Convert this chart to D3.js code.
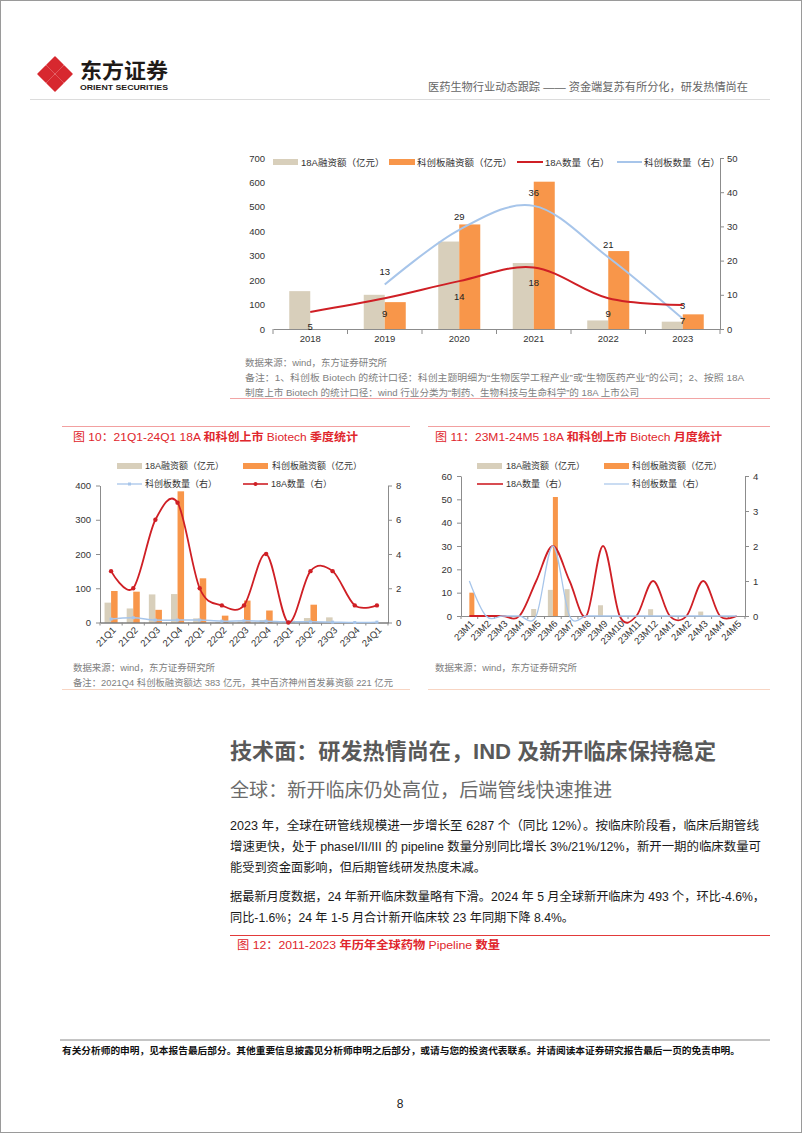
<!DOCTYPE html>
<html><head><meta charset="utf-8">
<script src="https://cdn.jsdelivr.net/npm/d3@7"></script>
<style>
body{margin:0;background:#fff}
svg{display:block;font-family:"Liberation Sans","Noto Sans CJK SC",sans-serif}
</style></head><body>
<svg id="page" width="802" height="1133"></svg>
<script>
// ---------- data ----------
const years = ["2018","2019","2020","2021","2022","2023"];
const yearA18Fund = [155,140,358,270,35,30];
const yearKcFund  = [0,110,428,603,319,60];
const yearA18Cnt  = [5,9,14,18,9,7];
const yearKcCnt   = [null,13,29,36,21,3];
const ticks1L = [0,100,200,300,400,500,600,700];
const ticks1R = [0,10,20,30,40,50];

const quarters = ["21Q1","21Q2","21Q3","21Q4","22Q1","22Q2","22Q3","22Q4","23Q1","23Q2","23Q3","23Q4","24Q1"];
const qA18Fund = [58,41,82,83,12,2,3,7,2,13,15,0,0];
const qKcFund  = [92,90,37,383,129,20,64,35,5,52,0,0,0];
const qA18Cnt  = [3,2,6,7,2,1,1,4,0,3,3,1,1];
const qKcCnt   = [10,14,7,7,7,4,5,4,2,2,1,0,1];
const ticks2L = [0,100,200,300,400];
const ticks2R = [0,2,4,6,8];

const months = ["23M1","23M2","23M3","23M4","23M5","23M6","23M7","23M8","23M9","23M10","23M11","23M12","24M1","24M2","24M3","24M4","24M5"];
const mA18Fund = [0,0,0.3,0,3,11.2,11.5,0,4.6,0,0,2.9,0,0,1.9,0,0];
const mKcFund  = [10,0,0,0,0,51,0,0,0,0,0,0,0,0,0,0,0];
const mA18Cnt  = [0,0,0,0,1,2,1,0,2,0,0,1,0,0,1,0,0];
const mKcCnt   = [1,0,0,0,0,2,0,0,0,0,0,0,0,0,0,0,0];
const ticks3L = [0,10,20,30,40,50,60];
const ticks3R = [0,1,2,3,4];

const legendNames = ["18A融资额（亿元）","科创板融资额（亿元）","18A数量（右）","科创板数量（右）"];

// ---------- helpers ----------
const C = {beige:"#d8cfbb", orange:"#f8964a", red:"#cf1f25", blue:"#a7c5ea", axis:"#8c8c8c", note:"#808080", title:"#e0262c"};
const svg = d3.select("#page");
const fmt = d3.format("d");
function T(x,y,s,o={}){
  const t = svg.append("text").attr("x",x).attr("y",y).attr("dominant-baseline","central")
    .attr("font-size",o.size||9.5).attr("fill",o.fill||"#333").text(s);
  if(o.anchor) t.attr("text-anchor",o.anchor);
  if(o.weight) t.attr("font-weight",o.weight);
  if(o.len) t.attr("textLength",o.len).attr("lengthAdjust","spacingAndGlyphs");
  return t;
}
function L(x1,y1,x2,y2,c,w){ svg.append("line").attr("x1",x1).attr("y1",y1).attr("x2",x2).attr("y2",y2).attr("stroke",c).attr("stroke-width",w||1); }
function titled(x,y,parts,len){
  const t = svg.append("text").attr("x",x).attr("y",y).attr("dominant-baseline","central")
    .attr("font-size",11.5).attr("fill",C.title);
  parts.forEach(p=>t.append("tspan").attr("font-weight",p[1]?"bold":"normal").text(p[0]));
  if(len) t.attr("textLength",len).attr("lengthAdjust","spacingAndGlyphs");
}
function styleAxis(g,size){
  g.selectAll("text").attr("font-size",size||9.5).attr("fill","#333").attr("font-family",null);
  g.selectAll("path,line").attr("stroke",C.axis);
}
const smooth = d3.curveCardinal.tension(0);

// page border
svg.append("rect").attr("x",0.5).attr("y",0.5).attr("width",801).attr("height",1132).attr("fill","none").attr("stroke","#9a9a9a");

// ---------- header ----------
const logo = svg.append("g").attr("fill","#d7282f");
[[55,65],[46,74],[64,74],[55,83]].forEach(([cx,cy])=>{
  logo.append("path").attr("d",`M${cx},${cy-8}L${cx+8},${cy}L${cx},${cy+8}L${cx-8},${cy}Z`).attr("stroke","#d7282f").attr("stroke-width",1.5).attr("stroke-linejoin","round");
});
T(80,70,"东方证券",{size:21,weight:"bold",fill:"#1f1a17",len:88});
T(80,87,"ORIENT SECURITIES",{size:7.2,weight:"bold",fill:"#1f1a17",len:88});
T(748,87,"医药生物行业动态跟踪 —— 资金端复苏有所分化，研发热情尚在",{size:11.5,fill:"#666",anchor:"end",len:320});
L(30,99.5,770,99.5,"#dcdcdc",1);

// ---------- chart 1 ----------
(function(){
  const l=273,r=720,t=158,b=329;
  const x = d3.scaleBand().domain(years).range([l,r]).paddingInner(0.436).paddingOuter(0.218);
  const xs = d3.scaleBand().domain(["a","k"]).range([0,x.bandwidth()]);
  const y = d3.scaleLinear().domain([0,700]).range([b,t]);
  const yr = d3.scaleLinear().domain([0,50]).range([b,t]);
  const cx = c => x(c)+x.bandwidth()/2;
  const g = svg.append("g");
  g.selectAll(".ba").data(years).join("rect").attr("x",d=>x(d)+xs("a")).attr("width",xs.bandwidth())
    .attr("y",(d,i)=>y(yearA18Fund[i])).attr("height",(d,i)=>b-y(yearA18Fund[i])).attr("fill",C.beige);
  g.selectAll(".bk").data(years).join("rect").attr("x",d=>x(d)+xs("k")).attr("width",xs.bandwidth())
    .attr("y",(d,i)=>y(yearKcFund[i])).attr("height",(d,i)=>b-y(yearKcFund[i])).attr("fill",C.orange);
  const ga = svg.append("g").attr("transform",`translate(${l-3},0)`).call(d3.axisLeft(y).tickValues(ticks1L).tickSize(0).tickPadding(5));
  ga.select(".domain").remove(); styleAxis(ga);
  const gr = svg.append("g").attr("transform",`translate(${r},0)`).call(d3.axisRight(yr).tickValues(ticks1R).tickFormat(fmt).tickSize(4).tickSizeOuter(0).tickPadding(3));
  styleAxis(gr);
  const gb = svg.append("g").attr("transform",`translate(0,${b})`).call(d3.axisBottom(x).tickSize(0).tickPadding(6));
  styleAxis(gb);
  d3.range(years.length+1).forEach(i=>{ const xx=l+i*x.step(); L(xx,b,xx,b+5,C.axis,1); });
  const line = d3.line().defined(d=>d[1]!=null).x(d=>cx(d[0])).y(d=>yr(d[1])).curve(smooth);
  svg.append("path").attr("d",line(years.map((c,i)=>[c,yearKcCnt[i]]))).attr("fill","none").attr("stroke",C.blue).attr("stroke-width",2);
  svg.append("path").attr("d",line(years.map((c,i)=>[c,yearA18Cnt[i]]))).attr("fill","none").attr("stroke",C.red).attr("stroke-width",2);
  years.forEach((c,i)=>{
    T(cx(c),yr(yearA18Cnt[i])+15,String(yearA18Cnt[i]),{anchor:"middle",fill:"#222"});
    if(yearKcCnt[i]!=null) T(cx(c),yr(yearKcCnt[i])-13,String(yearKcCnt[i]),{anchor:"middle",fill:"#222"});
  });
  svg.append("rect").attr("x",273).attr("y",159).attr("width",25).attr("height",6).attr("fill",C.beige);
  T(301,162,legendNames[0]);
  svg.append("rect").attr("x",389).attr("y",159).attr("width",26).attr("height",6).attr("fill",C.orange);
  T(417,162,legendNames[1]);
  L(517,162,543,162,C.red,2); T(545,162,legendNames[2]);
  L(617,162,642,162,C.blue,2); T(644,162,legendNames[3]);
})();
T(245,362,"数据来源：wind，东方证券研究所",{size:9.5,fill:C.note,len:142});
T(245,377,"备注：1、科创板 Biotech 的统计口径：科创主题明细为“生物医学工程产业”或“生物医药产业”的公司；2、按照 18A",{size:9.5,fill:C.note,len:499});
T(245,392,"制度上市 Biotech 的统计口径：wind 行业分类为“制药、生物科技与生命科学”的 18A 上市公司",{size:9.5,fill:C.note,len:394});
L(230,398.5,770,398.5,"#f2a5a5",1);

// ---------- titles fig 10 / 11 ----------
L(62,426.5,410,426.5,"#f2a0a0",1);
L(428,426.5,770,426.5,"#f2a0a0",1);
titled(73,437,[["图 10：21Q1-24Q1 18A ",0],["和科创上市",1],[" Biotech ",0],["季度统计",1]],285);
titled(435,437,[["图 11：23M1-24M5 18A ",0],["和科创上市",1],[" Biotech ",0],["月度统计",1]],287);

// ---------- generic small chart ----------
function small(cfg){
  const {cats,fa,fk,ca,ck,l,r,t,b,lmax,rmax,tl,tr,kOnLeft,markers,lw} = cfg;
  const x = d3.scaleBand().domain(cats).range([l,r]).paddingInner(cfg.pad).paddingOuter(cfg.pad/2);
  const xs = d3.scaleBand().domain(["a","k"]).range([0,x.bandwidth()]);
  const y = d3.scaleLinear().domain([0,lmax]).range([b,t]);
  const yr = d3.scaleLinear().domain([0,rmax]).range([b,t]);
  const cx = c => x(c)+x.bandwidth()/2;
  svg.append("g").selectAll("rect").data(cats).join("rect").attr("x",d=>x(d)+xs("a")).attr("width",xs.bandwidth())
    .attr("y",(d,i)=>y(fa[i])).attr("height",(d,i)=>b-y(fa[i])).attr("fill",C.beige);
  svg.append("g").selectAll("rect").data(cats).join("rect").attr("x",d=>x(d)+xs("k")).attr("width",xs.bandwidth())
    .attr("y",(d,i)=>y(fk[i])).attr("height",(d,i)=>b-y(fk[i])).attr("fill",C.orange);
  const ga = svg.append("g").attr("transform",`translate(${l},0)`).call(d3.axisLeft(y).tickValues(tl).tickFormat(fmt).tickSize(4).tickSizeOuter(0).tickPadding(5));
  styleAxis(ga);
  const gr = svg.append("g").attr("transform",`translate(${r},0)`).call(d3.axisRight(yr).tickValues(tr).tickFormat(fmt).tickSize(4).tickSizeOuter(0).tickPadding(4));
  styleAxis(gr);
  const gb = svg.append("g").attr("transform",`translate(0,${b})`).call(d3.axisBottom(x).tickSize(0).tickPadding(0));
  styleAxis(gb);
  gb.select(".domain").attr("stroke",cfg.xaxis);
  gb.selectAll("text").attr("y",0).attr("dy","0.35em").attr("text-anchor","end")
    .attr("transform",`translate(3,${cfg.lblOff}) rotate(-45)`);
  d3.range(cats.length+1).forEach(i=>{ const xx=l+i*x.step(); L(xx,b,xx,b+3,C.axis,1); });
  const yk = kOnLeft ? y : yr;
  const lineK = d3.line().x((d,i)=>cx(cats[i])).y(d=>yk(d)).curve(smooth);
  const lineA = d3.line().x((d,i)=>cx(cats[i])).y(d=>yr(d)).curve(smooth);
  const order = cfg.blueFirst ? ["k","a"] : ["a","k"];
  order.forEach(o=>{
    if(o==="k") svg.append("path").attr("d",lineK(ck)).attr("fill","none").attr("stroke",C.blue).attr("stroke-width",lw.k);
    else svg.append("path").attr("d",lineA(ca)).attr("fill","none").attr("stroke",C.red).attr("stroke-width",lw.a);
  });
  if(markers){
    svg.append("g").selectAll("rect").data(ck).join("rect").attr("x",(d,i)=>cx(cats[i])-1.5).attr("y",d=>yk(d)-1.5)
      .attr("width",3).attr("height",3).attr("fill",C.blue);
    svg.append("g").selectAll("circle").data(ca).join("circle").attr("cx",(d,i)=>cx(cats[i])).attr("cy",d=>yr(d))
      .attr("r",2.2).attr("fill",C.red);
  }
}

small({cats:quarters,fa:qA18Fund,fk:qKcFund,ca:qA18Cnt,ck:qKcCnt,l:100,r:388,t:485.5,b:622.5,lmax:400,rmax:8,
  tl:ticks2L,tr:ticks2R,kOnLeft:true,markers:true,pad:0.41,lblOff:6,xaxis:"#3a3a3a",lw:{a:1.8,k:1.5},blueFirst:true});
small({cats:months,fa:mA18Fund,fk:mKcFund,ca:mA18Cnt,ck:mKcCnt,l:461,r:745,t:476,b:616,lmax:60,rmax:4,
  tl:ticks3L,tr:ticks3R,kOnLeft:false,markers:false,pad:0.4,lblOff:6,xaxis:"#8c8c8c",lw:{a:1.8,k:1.3},blueFirst:false});

function legBox(x,y,c){ svg.append("rect").attr("x",x).attr("y",y-3).attr("width",25).attr("height",6).attr("fill",c); }
legBox(117,466,C.beige); T(145,466,legendNames[0],{size:9});
legBox(243,466,C.orange); T(272,466,legendNames[1],{size:9});
L(117,484,142,484,C.blue,1.3); svg.append("rect").attr("x",128).attr("y",482.5).attr("width",3).attr("height",3).attr("fill",C.blue);
T(145,484,legendNames[3],{size:9});
L(243,484,268,484,C.red,1.6); svg.append("circle").attr("cx",255.5).attr("cy",484).attr("r",2).attr("fill",C.red);
T(271,484,legendNames[2],{size:9});

legBox(477,466,C.beige); T(506,466,legendNames[0],{size:9});
legBox(604,466,C.orange); T(632,466,legendNames[1],{size:9});
L(477,484,503,484,C.red,1.6); T(506,484,legendNames[2],{size:9});
L(604,484,629,484,C.blue,1.2); T(632,484,legendNames[3],{size:9});

T(73,667,"数据来源：wind，东方证券研究所",{size:9.5,fill:C.note,len:142});
T(73,682,"备注：2021Q4 科创板融资额达 383 亿元，其中百济神州首发募资额 221 亿元",{size:9.5,fill:C.note,len:320});
T(435,667,"数据来源：wind，东方证券研究所",{size:9.5,fill:C.note,len:142});
L(62,689.5,410,689.5,"#f8d5c3",1);
L(428,689.5,770,689.5,"#f8d5c3",1);

// ---------- text section ----------
T(230,752,"技术面：研发热情尚在，IND 及新开临床保持稳定",{size:21.5,weight:"bold",fill:"#595959",len:486});
T(230,790,"全球：新开临床仍处高位，后端管线快速推进",{size:19,fill:"#6b6b6b",len:382});
const body = [
  ["2023 年，全球在研管线规模进一步增长至 6287 个（同比 12%）。按临床阶段看，临床后期管线",826,529],
  ["增速更快，处于 phaseI/II/III 的 pipeline 数量分别同比增长 3%/21%/12%，新开一期的临床数量可",847,531],
  ["能受到资金面影响，但后期管线研发热度未减。",868,256],
  ["据最新月度数据，24 年新开临床数量略有下滑。2024 年 5 月全球新开临床为 493 个，环比-4.6%，",897,535],
  ["同比-1.6%；24 年 1-5 月合计新开临床较 23 年同期下降 8.4%。",918,344]
];
body.forEach(([s,yy,len])=>T(230,yy,s,{size:12.5,fill:"#1a1a1a",len:len}));
L(230,935.5,770,935.5,"#e23a3a",1);
titled(237,945,[["图 12：2011-2023 ",0],["年历年全球药物",1],[" Pipeline ",0],["数量",1]],263);

// ---------- footer ----------
L(60,1040,770,1040,"#8a8a8a",1.2);
T(62,1050,"有关分析师的申明，见本报告最后部分。其他重要信息披露见分析师申明之后部分，或请与您的投资代表联系。并请阅读本证券研究报告最后一页的免责申明。",{size:9.5,weight:"bold",fill:"#111",len:678});
T(400,1104,"8",{size:12,fill:"#222",anchor:"middle"});
</script>
</body></html>
